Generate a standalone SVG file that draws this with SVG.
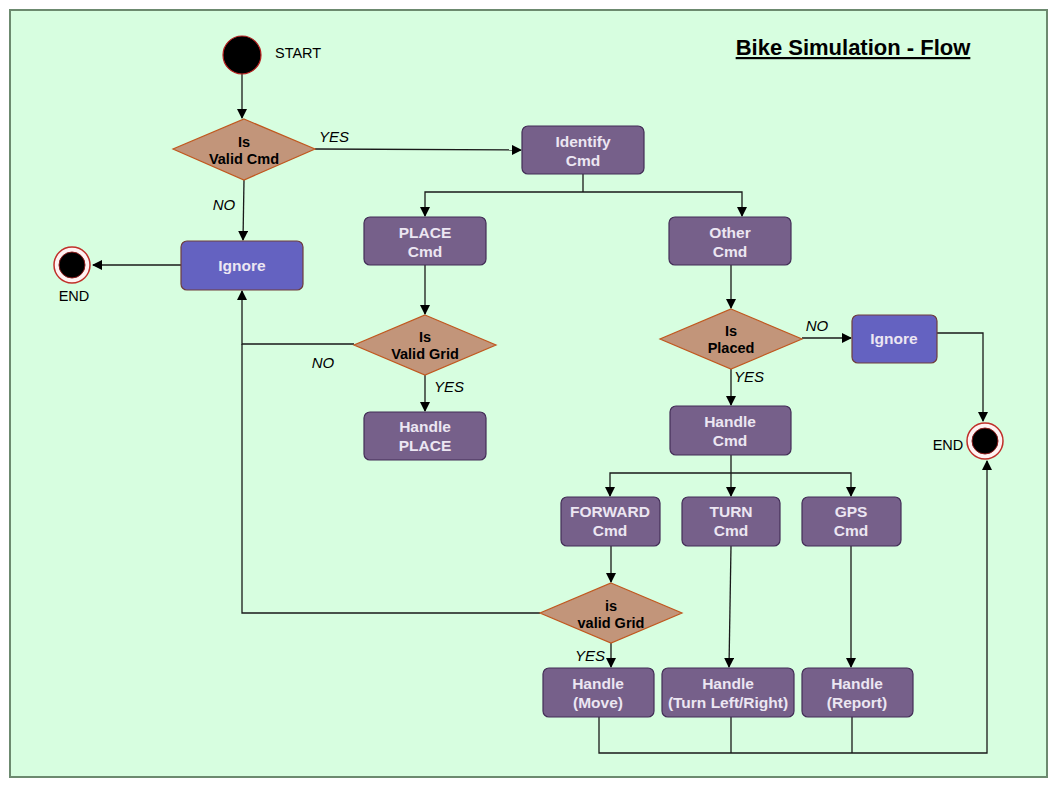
<svg xmlns="http://www.w3.org/2000/svg" width="1058" height="790" viewBox="0 0 1058 790">
<defs>
<marker id="arr" viewBox="0 0 10 10" refX="9" refY="5" markerWidth="10" markerHeight="10" markerUnits="userSpaceOnUse" orient="auto">
<path d="M0,0 L10,5 L0,10 Z" fill="#000"/>
</marker>
<style>
.bg{fill:#d7fee0;stroke:#6c8a6f;stroke-width:2}
.box{fill:#76608a;stroke:#432d57;stroke-width:1.2}
.ign{fill:#6462c1;stroke:#6e3d3d;stroke-width:1.2}
.dia{fill:#c2957a;stroke:#c0581f;stroke-width:1.2}
.wt{font-family:"Liberation Sans",Arial,sans-serif;font-size:15.5px;font-weight:bold;fill:#ece6f2;text-anchor:middle}
.bt{font-family:"Liberation Sans",Arial,sans-serif;font-size:14.5px;font-weight:bold;fill:#000;text-anchor:middle}
.lbl{font-family:"Liberation Sans",Arial,sans-serif;font-size:15px;font-style:italic;fill:#000;text-anchor:middle}
.pl{font-family:"Liberation Sans",Arial,sans-serif;font-size:14.5px;fill:#000;text-anchor:middle}
.ln{fill:none;stroke:#1a1a1a;stroke-width:1.3}
.la{fill:none;stroke:#1a1a1a;stroke-width:1.3;marker-end:url(#arr)}
</style>
</defs>
<rect class="bg" x="10" y="10" width="1037" height="767"/>
<text x="853" y="55" style="font-family:'Liberation Sans',Arial,sans-serif;font-size:22px;font-weight:bold;text-decoration:underline" text-anchor="middle">Bike Simulation - Flow</text>

<g id="connectors">
<path class="la" d="M242,74 L242,118"/>
<path class="la" d="M315,149 L521,150"/>
<path class="ln" d="M583,174 L583,192"/>
<path class="la" d="M583,192 L425,192 L425,216"/>
<path class="la" d="M583,192 L742,192 L742,216"/>
<path class="la" d="M244,180 L243,240"/>
<path class="la" d="M181,265 L93,265"/>
<path class="la" d="M425,265 L425,314"/>
<path class="la" d="M354,344 L242,344 L242,291"/>
<path class="la" d="M425,375 L425,411"/>
<path class="la" d="M731,265 L731,308"/>
<path class="la" d="M802,338 L851,338"/>
<path class="la" d="M937,333 L983,333 L983,421"/>
<path class="la" d="M731,369 L731,405"/>
<path class="ln" d="M731,455 L731,473"/>
<path class="la" d="M731,473 L610,473 L610,496"/>
<path class="la" d="M731,473 L731,496"/>
<path class="la" d="M731,473 L851,473 L851,496"/>
<path class="la" d="M611,546 L611,582"/>
<path class="ln" d="M540,613 L242,613 L242,344"/>
<path class="la" d="M611,643 L611,667"/>
<path class="la" d="M731,546 L729,667"/>
<path class="la" d="M851,546 L851,667"/>
<path class="la" d="M599,717 L599,753 L987,753 L987,461"/>
<path class="ln" d="M731,717 L731,753"/>
<path class="ln" d="M852,717 L852,753"/>
<text class="lbl" x="334" y="142">YES</text>
<text class="lbl" x="224" y="210">NO</text>
<text class="lbl" x="323" y="368">NO</text>
<text class="lbl" x="449" y="392">YES</text>
<text class="lbl" x="817" y="331">NO</text>
<text class="lbl" x="749" y="382">YES</text>
<text class="lbl" x="590" y="661">YES</text>
</g>

<g id="start">
<circle cx="242" cy="55" r="19" fill="#000" stroke="#b82020" stroke-width="1.2"/>
<text x="275" y="58" style="font-family:'Liberation Sans',Arial,sans-serif;font-size:14.5px">START</text>
</g>

<g id="isValidCmd">
<polygon class="dia" points="244,119 315,149 244,180 173,149"/>
<text class="bt" x="244" y="147">Is</text>
<text class="bt" x="244" y="164">Valid Cmd</text>
</g>

<g id="identifyCmd">
<rect class="box" x="522" y="126" width="122" height="48" rx="6"/>
<text class="wt" x="583" y="147">Identify</text>
<text class="wt" x="583" y="166">Cmd</text>
</g>

<g id="ignoreLeft">
<rect class="ign" x="181" y="241" width="122" height="49" rx="6"/>
<text class="wt" x="242" y="271">Ignore</text>
</g>

<g id="endLeft">
<circle cx="72" cy="265" r="18" fill="#fff2f2" stroke="#c0302a" stroke-width="1.5"/>
<circle cx="72" cy="265" r="13" fill="#000" stroke="#8a1a1a" stroke-width="1"/>
<text class="pl" x="74" y="301">END</text>
</g>

<g id="placeCmd">
<rect class="box" x="364" y="217" width="122" height="48" rx="6"/>
<text class="wt" x="425" y="238">PLACE</text>
<text class="wt" x="425" y="257">Cmd</text>
</g>

<g id="otherCmd">
<rect class="box" x="669" y="217" width="122" height="48" rx="6"/>
<text class="wt" x="730" y="238">Other</text>
<text class="wt" x="730" y="257">Cmd</text>
</g>

<g id="isValidGrid">
<polygon class="dia" points="425,315 496,345 425,375 354,345"/>
<text class="bt" x="425" y="342">Is</text>
<text class="bt" x="425" y="359">Valid Grid</text>
</g>

<g id="handlePlace">
<rect class="box" x="364" y="412" width="122" height="48" rx="6"/>
<text class="wt" x="425" y="432">Handle</text>
<text class="wt" x="425" y="451">PLACE</text>
</g>

<g id="isPlaced">
<polygon class="dia" points="731,309 802,339 731,369 660,339"/>
<text class="bt" x="731" y="336">Is</text>
<text class="bt" x="731" y="353">Placed</text>
</g>

<g id="ignoreRight">
<rect class="ign" x="852" y="315" width="85" height="48" rx="6"/>
<text class="wt" x="894" y="344">Ignore</text>
</g>

<g id="endRight">
<circle cx="985" cy="441" r="18" fill="#fff2f2" stroke="#c0302a" stroke-width="1.5"/>
<circle cx="985" cy="441" r="13" fill="#000" stroke="#8a1a1a" stroke-width="1"/>
<text class="pl" x="948" y="450">END</text>
</g>

<g id="handleCmd">
<rect class="box" x="670" y="406" width="121" height="49" rx="6"/>
<text class="wt" x="730" y="427">Handle</text>
<text class="wt" x="730" y="446">Cmd</text>
</g>

<g id="forwardCmd">
<rect class="box" x="561" y="497" width="99" height="49" rx="6"/>
<text class="wt" x="610" y="517">FORWARD</text>
<text class="wt" x="610" y="536">Cmd</text>
</g>

<g id="turnCmd">
<rect class="box" x="682" y="497" width="98" height="49" rx="6"/>
<text class="wt" x="731" y="517">TURN</text>
<text class="wt" x="731" y="536">Cmd</text>
</g>

<g id="gpsCmd">
<rect class="box" x="802" y="497" width="99" height="49" rx="6"/>
<text class="wt" x="851" y="517">GPS</text>
<text class="wt" x="851" y="536">Cmd</text>
</g>

<g id="isValidGrid2">
<polygon class="dia" points="611,583 682,613 611,643 540,613"/>
<text class="bt" x="611" y="611">is</text>
<text class="bt" x="611" y="628">valid Grid</text>
</g>

<g id="handleMove">
<rect class="box" x="543" y="668" width="111" height="49" rx="6"/>
<text class="wt" x="598" y="689">Handle</text>
<text class="wt" x="598" y="708">(Move)</text>
</g>

<g id="handleTurn">
<rect class="box" x="662" y="668" width="132" height="49" rx="6"/>
<text class="wt" x="728" y="689">Handle</text>
<text class="wt" x="728" y="708">(Turn Left/Right)</text>
</g>

<g id="handleReport">
<rect class="box" x="802" y="668" width="111" height="49" rx="6"/>
<text class="wt" x="857" y="689">Handle</text>
<text class="wt" x="857" y="708">(Report)</text>
</g>
</svg>
